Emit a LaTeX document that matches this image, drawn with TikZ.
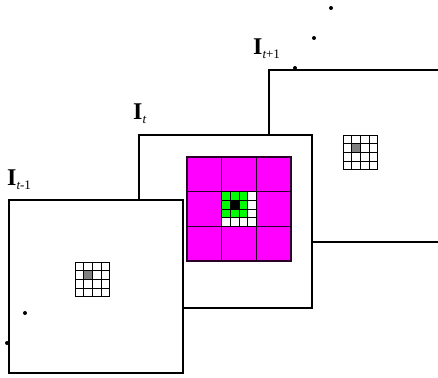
\documentclass[tikz,border=0pt]{standalone}
\usepackage{fontspec}
\setmainfont{Liberation Serif}
\usepackage{tikz}
\usetikzlibrary{positioning}
\definecolor{cellgray}{gray}{0.5}
\definecolor{pinkcell}{rgb}{1,0,1}
\definecolor{greencell}{rgb}{0,1,0}
\newcommand{\framelabel}[1]{{\fontsize{24}{26}\selectfont\bfseries I}\raisebox{-4pt}{\fontsize{13}{13}\selectfont #1}}

\begin{document}
\begin{tikzpicture}[x=1pt,y=-1pt]
      \tikzset{frame/.style={draw, line width=1.8pt, fill=white},
               dot/.style={circle, fill=black, inner sep=0pt, minimum size=4pt},
               lbl/.style={anchor=base west, inner sep=0pt}}
      \useasboundingbox (0,0) rectangle (438,377);

      % frame t+1
      \draw[frame] (269,70) rectangle (480,242);
      \foreach \i in {0,...,3}
        \foreach \j in {0,...,3}
          \draw[line width=0.8pt] (343+\i*8.67,135+\j*8.67) rectangle ++(8.67,8.67);
      \fill[cellgray] (351.67,143.67) rectangle ++(8.67,8.67);
      \draw[line width=0.8pt] (351.67,143.67) rectangle ++(8.67,8.67);

      % frame t
      \draw[frame] (139,135) rectangle (312,308);
      \fill[pinkcell] (187,157) rectangle ++(104,104);
      \foreach \i in {0,1,2}
        \foreach \j in {0,1,2}
          \draw[line width=1.2pt, black!85!pinkcell] (187+\i*34.67,157+\j*34.67) rectangle ++(34.67,34.67);
      \fill[white] (221.67,191.67) rectangle ++(34.67,34.67);
      \foreach \i in {0,...,3}
        \foreach \j in {0,...,3} {
          \ifnum\i<3 \ifnum\j<3
            \fill[greencell] (221.67+\i*8.67,191.67+\j*8.67) rectangle ++(8.67,8.67);
          \fi\fi
          \draw[line width=0.8pt] (221.67+\i*8.67,191.67+\j*8.67) rectangle ++(8.67,8.67);
        }
      \fill[black] (230.33,200.33) rectangle ++(8.67,8.67);

      % frame t-1
      \draw[frame] (9,200) rectangle (183,373);
      \foreach \i in {0,...,3}
        \foreach \j in {0,...,3}
          \draw[line width=0.8pt] (75+\i*8.67,262+\j*8.67) rectangle ++(8.67,8.67);
      \fill[cellgray] (83.67,270.67) rectangle ++(8.67,8.67);
      \draw[line width=0.8pt] (83.67,270.67) rectangle ++(8.67,8.67);

      % labels
      \node[lbl] (lnext) at (253,55)  {\framelabel{\itshape t\upshape +1}};
      \node[lbl] (lcur)  at (133,119) {\framelabel{\itshape t}};
      \node[lbl] (lprev) at (7,185)   {\framelabel{\itshape t\upshape -1}};

      % dots
      \node[dot] (d1) at (331,8)   {};
      \node[dot] (d2) at (314,38)  {};
      \node[dot] (d3) at (295,68)  {};
      \node[dot] (d4) at (25,313)  {};
      \node[dot] (d5) at (7,343)   {};
\end{tikzpicture}
\end{document}
